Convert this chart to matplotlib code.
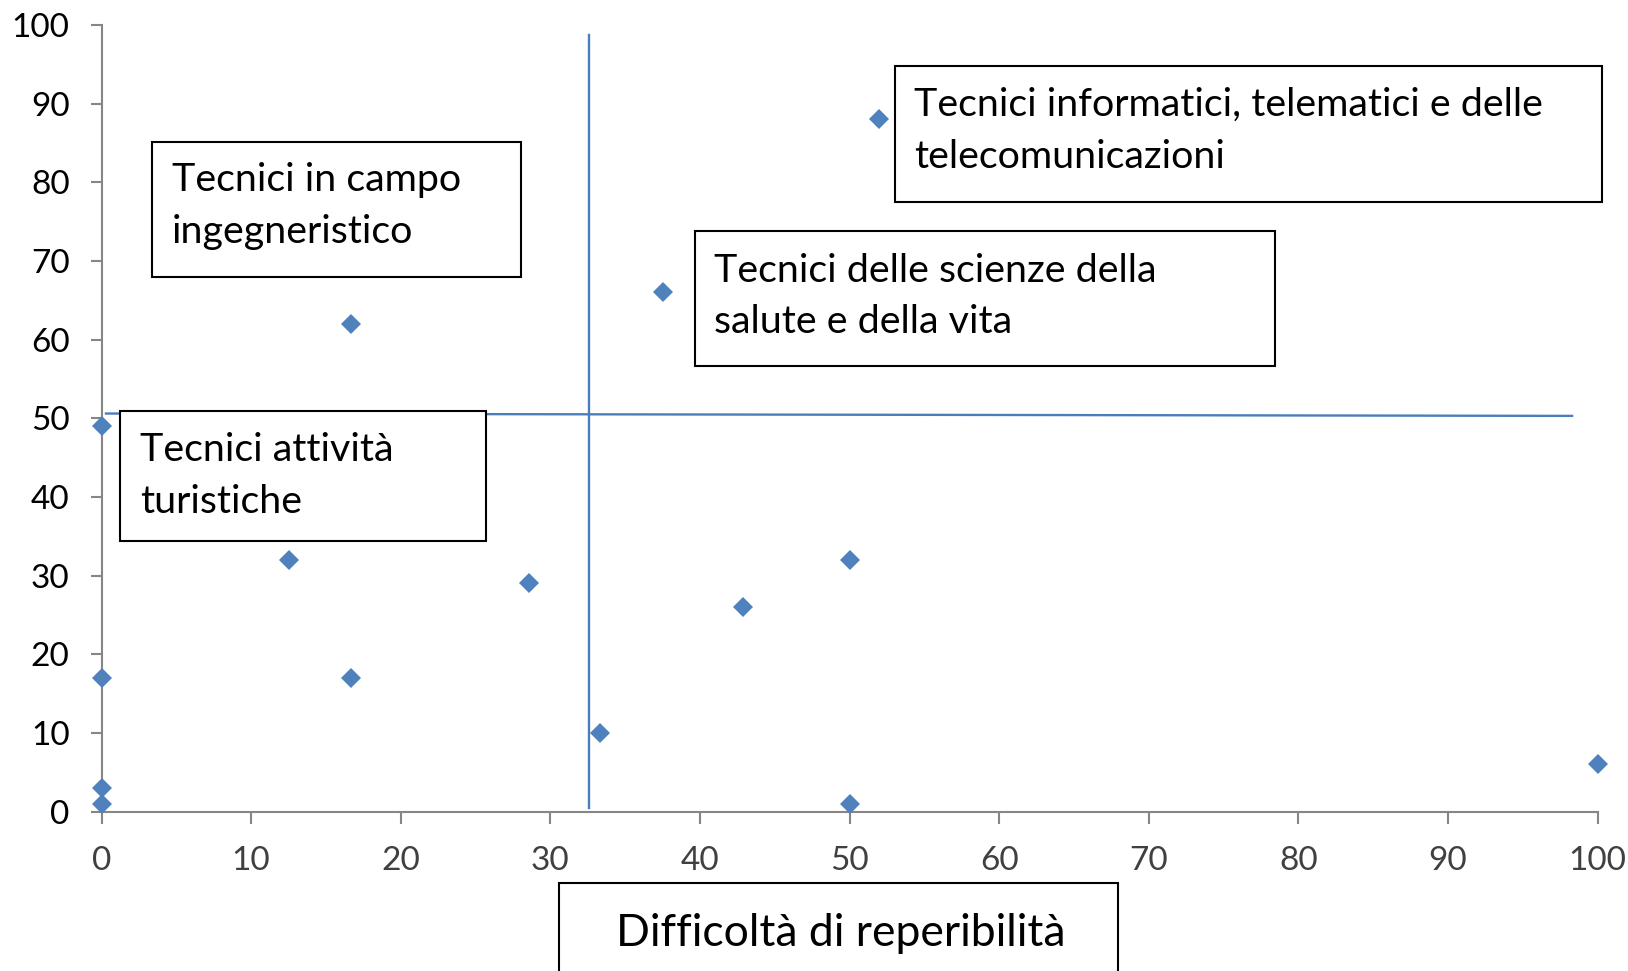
import matplotlib
matplotlib.use("Agg")
import matplotlib.pyplot as plt
from matplotlib.patches import Rectangle

# ---- data ----
difficolta = [0, 0, 0, 0, 16.7, 12.5, 16.7, 28.6, 33.3, 37.5, 42.9, 50, 50, 52, 100]
valori = [49, 17, 3, 1, 62, 32, 17, 29, 10, 66, 26, 32, 1, 88, 6]

x_ticks = [0, 10, 20, 30, 40, 50, 60, 70, 80, 90, 100]
y_ticks = [0, 10, 20, 30, 40, 50, 60, 70, 80, 90, 100]

# quadrant divider lines
vline_x = [32.6, 32.6]
vline_y = [0.5, 98.7]
hline_x = [0.3, 98.3]
hline_y = [50.6, 50.3]

box_labels = [
    ["Tecnici in campo", "ingegneristico"],
    ["Tecnici informatici, telematici e delle", "telecomunicazioni"],
    ["Tecnici delle scienze della", "salute e della vita"],
    ["Tecnici attività", "turistiche"],
]
x_label = "Difficoltà di reperibilità"

# ---- layout (pixels) ----
W, H = 1628, 971
FONT = "Lato"
plt.rcParams["font.family"] = [FONT, "DejaVu Sans"]

fig = plt.figure(figsize=(W / 100, H / 100), dpi=100)
ax_l, ax_r, ax_t, ax_b = 101.5, 1597.5, 25, 811.5
ax = fig.add_axes([ax_l / W, 1 - ax_b / H, (ax_r - ax_l) / W, (ax_b - ax_t) / H])

axis_col = "#868686"
ax.set_xlim(0, 100)
ax.set_ylim(0, 100)
for s in ["top", "right"]:
    ax.spines[s].set_visible(False)
for s in ["left", "bottom"]:
    ax.spines[s].set_color(axis_col)
    ax.spines[s].set_linewidth(1.5)
ax.set_xticks(x_ticks)
ax.set_yticks(y_ticks)
ax.set_xticklabels([str(v) for v in x_ticks])
ax.set_yticklabels([str(v) for v in y_ticks])
ax.tick_params(axis="x", direction="out", length=8.5, width=1.5, color=axis_col,
               labelsize=24, labelcolor="#404040", pad=16)
ax.tick_params(axis="y", direction="out", length=8, width=1.5, color=axis_col,
               labelsize=24, labelcolor="#000000", pad=15)

line_col = "#4A7EBB"
ax.plot(vline_x, vline_y, color=line_col, lw=1.7, zorder=3, clip_on=False)
ax.plot(hline_x, hline_y, color=line_col, lw=1.7, zorder=3, clip_on=False)

ax.plot(difficolta, valori, linestyle="none", marker="D", markersize=10.2,
        markerfacecolor="#4F81BD", markeredgewidth=0, zorder=5, clip_on=False)


def fx(px):
    return px / W


def fy(py):
    return 1 - py / H


# boxes: (left, top, right, bottom), text x, first baseline
box_geom = [
    ((151.7, 141.7, 521.0, 276.7), 171.5, 191.5),
    ((895.0, 65.7, 1602.0, 201.7), 914.0, 116.0),
    ((694.6, 231.5, 1275.0, 366.5), 713.6, 281.8),
    ((120.0, 411.0, 486.0, 541.0), 139.7, 461.0),
]
line_gap = 51.5
for lines, (rect, tx, tb) in zip(box_labels, box_geom):
    l, t, r, b = rect
    fig.add_artist(Rectangle((fx(l), fy(b)), fx(r) - fx(l), fy(t) - fy(b),
                             transform=fig.transFigure, facecolor="white",
                             edgecolor="black", lw=1.5, zorder=2))
    for i, s in enumerate(lines):
        fig.text(fx(tx), fy(tb + i * line_gap), s, fontsize=28.4, color="black",
                 ha="left", va="baseline", zorder=4)

# x axis title box
fig.add_artist(Rectangle((fx(559), fy(1000)), fx(1117.7) - fx(559), fy(882.7) - fy(1000),
                         transform=fig.transFigure, facecolor="white",
                         edgecolor="black", lw=1.5, zorder=2))
fig.text(fx(840.8), fy(946), x_label, fontsize=32.0, color="black",
         ha="center", va="baseline", zorder=4)

fig.savefig("out.png", dpi=100)
